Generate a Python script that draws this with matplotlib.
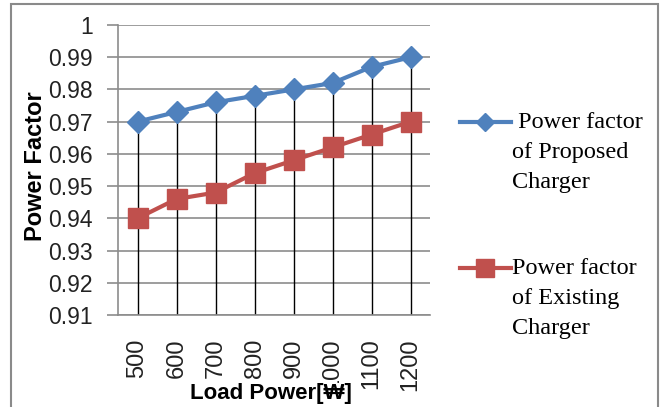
import matplotlib.pyplot as plt
from matplotlib.lines import Line2D
from matplotlib.patches import Rectangle

# data
load_power = ['500', '600', '700', '800', '900', '1000', '1100', '1200']
pf_proposed = [0.970, 0.973, 0.976, 0.978, 0.980, 0.982, 0.987, 0.990]
pf_existing = [0.940, 0.946, 0.948, 0.954, 0.958, 0.962, 0.966, 0.970]
y_ticks = [0.91, 0.92, 0.93, 0.94, 0.95, 0.96, 0.97, 0.98, 0.99, 1.0]
y_labels = ['0.91', '0.92', '0.93', '0.94', '0.95', '0.96', '0.97', '0.98', '0.99', '1']
legend_labels = [' Power factor\nof Proposed\nCharger', 'Power factor\nof Existing\nCharger']

blue = '#4F81BD'
red = '#C0504D'
grid_gray = '#8C8C8C'

fig = plt.figure(figsize=(6.65, 4.07), dpi=100)
fig.patch.set_facecolor('white')
ax = fig.add_axes([118 / 665, 1 - 315 / 407, (430 - 118) / 665, (315 - 25) / 407])

x = list(range(len(load_power)))

# drop lines from the upper series down to the axis
ax.vlines(x, 0.91, pf_proposed, color='black', lw=1, zorder=2)

ax.plot(x, pf_proposed, color=blue, lw=3, marker='D', ms=11.5, zorder=4)
ax.plot(x, pf_existing, color=red, lw=3, marker='s', ms=14, zorder=3)

ax.set_xlim(-0.5, len(load_power) - 0.5)
ax.set_ylim(0.91, 1.0)
ax.set_yticks(y_ticks)
ax.set_yticklabels(y_labels, fontsize=16.5, family='Liberation Sans', color='#222222')
ax.set_xticks(x)
ax.set_xticklabels(load_power, rotation=90, fontsize=17, family='Liberation Sans',
                   color='#222222')
ax.tick_params(axis='x', length=0, pad=17)
ax.tick_params(axis='y', length=8, width=1.2, color=grid_gray, pad=10)
ax.yaxis.grid(True, color=grid_gray, lw=1.2)
ax.set_axisbelow(True)

for s in ['top', 'right']:
    ax.spines[s].set_visible(False)
for s in ['left', 'bottom']:
    ax.spines[s].set_color(grid_gray)
    ax.spines[s].set_linewidth(1.2)

ax.set_ylabel('Power Factor', fontsize=17, fontweight='bold',
              family='Liberation Sans')
ax.yaxis.set_label_coords(-0.228, 0.515)
ax.set_xlabel('Load Power[₩]', fontsize=16, fontweight='bold',
              family=['Liberation Sans', 'DejaVu Sans'],
              bbox=dict(facecolor='white', edgecolor='none', pad=0))
ax.xaxis.set_label_coords(0.49, -0.235)

# legend drawn by hand so the handle sits on the first text line
for label, color, marker, ms, ytop in [(legend_labels[0], blue, 'D', 9, 122),
                                       (legend_labels[1], red, 's', 13, 268)]:
    fy = 1 - ytop / 407
    fig.add_artist(Line2D([460 / 665, 511 / 665], [fy, fy], color=color, lw=3,
                          transform=fig.transFigure))
    fig.add_artist(Line2D([485.5 / 665], [fy], color=color, marker=marker, ms=ms,
                          transform=fig.transFigure))
    fig.text(512 / 665, fy + 10 / 407, label, ha='left', va='top', fontsize=17.5,
             family='Liberation Serif', linespacing=1.55)

# outer chart border
fig.add_artist(Rectangle((11 / 665, -0.05), (658 - 11) / 665, 1.05 - 4 / 407,
                         transform=fig.transFigure, fill=False,
                         edgecolor='#8A8A8A', lw=1.5))

fig.savefig('out.png', dpi=100)
